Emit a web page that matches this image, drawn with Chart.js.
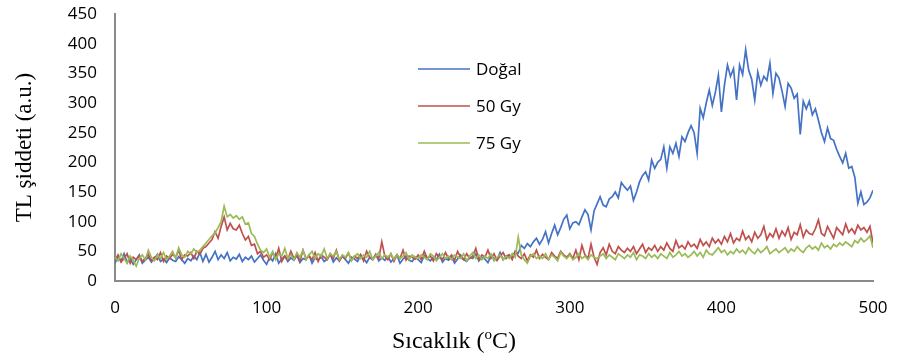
<!DOCTYPE html>
<html>
<head>
<meta charset="utf-8">
<script src="https://cdn.jsdelivr.net/npm/chart.js@4"></script>
<style>
  html, body { margin: 0; padding: 0; background: #fff; }
  #wrap { width: 897px; height: 363px; }
</style>
</head>
<body>
<div id="wrap"><canvas id="tl-chart"></canvas></div>
<script>
// Glow curve readings, one sample every 2 °C from 0 to 500 °C
const tempStart = 0;
const tempStep = 2;

const seriesNames = ['Doğal', '50 Gy', '75 Gy'];
const seriesColors = ['#4472C4', '#C0504D', '#9BBB59'];

const xTicks = [0, 100, 200, 300, 400, 500];
const yTicks = [0, 50, 100, 150, 200, 250, 300, 350, 400, 450];

const dogal = [
  30, 42, 33, 46, 31, 38, 28, 36, 44, 30,
  35, 40, 32, 38, 45, 33, 37, 31, 39, 35,
  33, 41, 36, 30, 38, 34, 42, 36, 48, 33,
  45, 32, 40, 50, 36, 44, 38, 48, 34, 40,
  37, 45, 33, 40, 36, 42, 32, 38, 44, 35,
  28, 40, 34, 46, 30, 37, 42, 33, 39, 35,
  43, 31, 38, 36, 44, 30, 39, 35, 41, 33,
  37, 45, 32, 39, 34, 42, 36, 30, 40, 37,
  33, 43, 38, 31, 40, 36, 45, 34, 39, 35,
  41, 32, 38, 44, 30, 37, 42, 35, 33, 40,
  36, 31, 43, 38, 34, 40, 36, 45, 32, 38,
  35, 41, 30, 37, 44, 36, 33, 40, 38, 46,
  34, 40, 37, 31, 43, 38, 35, 48, 36, 42,
  44, 39, 50, 47, 60, 55, 63, 58, 66, 72,
  62, 70, 83, 64, 80, 94, 78, 90, 104, 111,
  88, 98, 100, 95, 108, 120, 112, 86, 118, 130,
  142, 128, 125, 138, 142, 150, 140, 166, 159, 153,
  160, 136, 150, 167, 178, 184, 170, 204, 190, 200,
  205, 226, 190, 226, 215, 232, 210, 243, 235, 250,
  262, 250, 215, 291, 275, 300, 322, 296, 318, 347,
  285, 330, 364, 345, 358, 305, 364, 348, 390, 355,
  340, 305, 352, 330, 345, 338, 367, 316, 350, 342,
  320, 294, 333, 325, 308, 315, 247, 303, 290, 303,
  280, 290, 271, 250, 235, 258, 240, 237, 222, 210,
  199, 215, 190, 193, 175, 131, 150, 129, 133, 140,
  153
];

const gy50 = [
  35, 44, 32, 38, 46, 30, 40, 36, 42, 33,
  38, 45, 34, 40, 36, 48, 33, 42, 38, 45,
  40, 52, 36, 44, 42, 48, 38, 50, 45, 55,
  58, 64, 70, 83, 72, 92, 108, 86, 97, 88,
  86, 94, 80, 69, 75, 60, 62, 46, 50, 40,
  44, 36, 48, 38, 55, 33, 42, 36, 50, 38,
  45, 34, 52, 38, 42, 36, 48, 33, 44, 40,
  36, 46, 38, 52, 34, 43, 38, 47, 35, 42,
  38, 45, 34, 50, 40, 36, 44, 38, 66, 42,
  36, 46, 33, 44, 38, 52, 35, 42, 40, 37,
  44, 36, 50, 38, 42, 34, 46, 40, 36, 48,
  38, 44, 35, 50, 40, 36, 46, 38, 42, 55,
  36, 44, 40, 52, 38, 46, 35, 42, 48, 38,
  44, 36, 50, 42, 38, 46, 34, 44, 40, 52,
  38, 45, 40, 36, 48, 42, 38, 50, 44, 40,
  46, 38, 52, 36, 60, 44, 38, 62, 40, 28,
  48, 56, 44, 62, 50, 46, 58, 52, 48, 55,
  50, 58, 46, 54, 62, 48, 56, 52, 60, 50,
  58, 52, 64, 55, 50, 68, 56, 60, 54, 66,
  58, 62, 55, 70, 60, 66, 58, 72, 64, 70,
  62, 75, 66, 80, 64, 72, 68, 84, 70, 76,
  66, 82, 72, 78, 92, 70, 80, 74, 88, 72,
  84, 76, 90, 70, 82, 78, 95, 74, 86, 80,
  78, 88, 103, 80, 76, 92, 82, 72, 90, 84,
  78, 96, 82, 88, 80, 94, 86, 90, 82, 92,
  64
];

const gy75 = [
  40, 34, 46, 38, 30, 42, 35, 25, 38, 44,
  36, 52, 40, 34, 44, 38, 48, 36, 42, 50,
  38, 56, 44, 40, 50, 46, 54, 48, 52, 58,
  64, 70, 76, 81, 90, 100, 126, 108, 112, 106,
  110, 104, 108, 96, 98, 80, 75, 62, 52, 48,
  54, 40, 50, 36, 46, 42, 55, 38, 44, 36,
  48, 40, 52, 36, 44, 50, 38, 46, 42, 54,
  38, 46, 42, 50, 36, 44, 40, 48, 34, 42,
  46, 38, 44, 40, 50, 36, 42, 48, 38, 44,
  40, 46, 36, 44, 38, 42, 48, 36, 44, 40,
  38, 44, 40, 36, 46, 42, 34, 40, 46, 38,
  42, 36, 44, 40, 38, 46, 34, 42, 48, 38,
  44, 36, 42, 38, 46, 34, 40, 44, 36, 42,
  38, 46, 40, 74, 44, 36, 30, 42, 46, 38,
  42, 38, 46, 36, 44, 40, 34, 48, 42, 38,
  44, 36, 40, 46, 38, 42, 36, 44, 40, 38,
  42, 46, 38, 44, 40, 36, 46, 42, 38, 44,
  40, 48, 36, 44, 42, 38, 46, 40, 44, 38,
  46, 42, 38, 48, 40, 44, 50, 42, 46, 40,
  44, 50, 42, 48, 40, 52, 46, 44, 50, 56,
  48, 52, 44, 50, 46, 54, 48, 52, 46, 56,
  50, 46, 54, 48, 52, 58, 46, 50, 54, 48,
  52, 56, 48, 54, 50, 58, 52, 48, 56, 60,
  54, 58, 52, 64, 56, 60, 54, 62, 58, 64,
  60, 66, 62, 58, 68, 64, 72, 66, 70, 76,
  56
];

const toPoints = vals => vals.map((v, i) => ({ x: tempStart + i * tempStep, y: v }));

const TICK_FONT = { family: 'Open Sans', size: 17 };
const SERIF = 'Liberation Serif';

// Legend drawn inside the plot area, stacked vertically
const insideLegend = {
  id: 'insideLegend',
  afterDraw(chart) {
    const ctx = chart.ctx;
    const x0 = 418, y0 = 69, gap = 37;
    ctx.save();
    ctx.font = '17px "Open Sans"';
    ctx.textBaseline = 'middle';
    chart.data.datasets.forEach((ds, i) => {
      const y = y0 + i * gap;
      ctx.strokeStyle = ds.borderColor;
      ctx.lineWidth = 1.5;
      ctx.beginPath();
      ctx.moveTo(x0, y);
      ctx.lineTo(x0 + 52, y);
      ctx.stroke();
      ctx.fillStyle = '#000';
      ctx.fillText(ds.label, x0 + 58, y + 1);
    });
    ctx.restore();
  }
};

// X axis title with a raised "o" for degrees
const xTitle = {
  id: 'xTitle',
  afterDraw(chart) {
    const ctx = chart.ctx;
    const big = '24px "' + SERIF + '"';
    const small = '15px "' + SERIF + '"';
    const parts = [['Sıcaklık (', big, 0], ['o', small, -9], ['C)', big, 0]];
    ctx.save();
    let w = 0;
    parts.forEach(p => { ctx.font = p[1]; w += ctx.measureText(p[0]).width; });
    let x = 454 - w / 2;
    const y = 348;
    ctx.fillStyle = '#000';
    ctx.textBaseline = 'alphabetic';
    parts.forEach(p => {
      ctx.font = p[1];
      ctx.fillText(p[0], x, y + p[2]);
      x += ctx.measureText(p[0]).width;
    });
    ctx.restore();
  }
};

const datasets = [dogal, gy50, gy75].map((vals, i) => ({
  label: seriesNames[i],
  data: toPoints(vals),
  borderColor: seriesColors[i],
  borderWidth: 1.7,
  pointRadius: 0,
  tension: 0,
  fill: false,
  order: 2 - i
}));

new Chart(document.getElementById('tl-chart'), {
  type: 'line',
  data: { datasets },
  plugins: [insideLegend, xTitle],
  options: {
    responsive: true,
    maintainAspectRatio: false,
    animation: false,
    layout: { padding: { top: 14, right: 24, bottom: 0, left: 0 } },
    plugins: { legend: { display: false }, tooltip: { enabled: false } },
    scales: {
      x: {
        type: 'linear',
        min: 0, max: 500,
        afterBuildTicks: s => { s.ticks = xTicks.map(v => ({ value: v })); },
        afterFit: s => { s.height = 82; s.paddingLeft = 0; s.paddingRight = 0; },
        grid: { display: false, drawTicks: false },
        border: { display: true, color: '#8a8a8a', width: 2 },
        ticks: { font: TICK_FONT, color: '#000', padding: 17, maxRotation: 0 }
      },
      y: {
        min: 0, max: 450,
        afterBuildTicks: s => { s.ticks = yTicks.map(v => ({ value: v })); },
        afterFit: s => { s.width = 115; s.paddingTop = 0; s.paddingBottom = 0; },
        grid: { display: false, drawTicks: false },
        border: { display: true, color: '#8a8a8a', width: 2 },
        ticks: { font: TICK_FONT, color: '#000', padding: 18 },
        title: {
          display: true,
          text: 'TL şiddeti (a.u.)',
          font: { family: SERIF, size: 23 },
          color: '#000',
          padding: { top: 11, bottom: 0 }
        }
      }
    }
  }
});
</script>
</body>
</html>
